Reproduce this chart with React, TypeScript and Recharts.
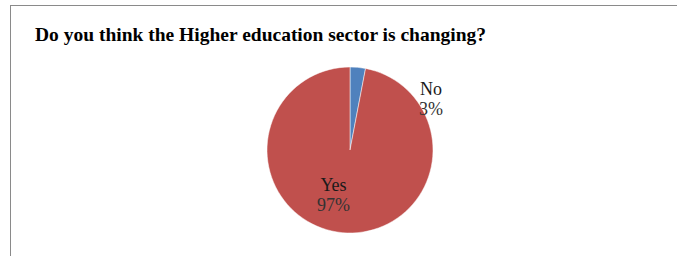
import React from 'react';
import { PieChart, Pie, Cell } from 'recharts';

const categories = ['No', 'Yes'];
const shares = [3, 97];
const sliceColors = ['#4F81BD', '#C0504D'];

// label placement: angle (deg, counter-clockwise from 3 o'clock) and radius factor
const labelAngles = [32, -110];
const labelRadii = [1.15, 0.58];

const data = categories.map((name, i) => ({ name, value: shares[i] }));

const RADIAN = Math.PI / 180;

const renderLabel = (props: any) => {
  const { cx, cy, outerRadius, index } = props;
  const r = outerRadius * labelRadii[index];
  const x = cx + r * Math.cos(labelAngles[index] * RADIAN);
  const y = cy - r * Math.sin(labelAngles[index] * RADIAN);
  return (
    <text
      x={x}
      y={y}
      textAnchor="middle"
      fontFamily="'Liberation Serif', 'Times New Roman', serif"
      fontSize={18}
      fill="#1a1a1a"
    >
      <tspan x={x} dy={-4}>{categories[index]}</tspan>
      <tspan x={x} dy={20} fill="#333">{shares[index]}%</tspan>
    </text>
  );
};

export default function App() {
  return (
    <div
      style={{
        position: 'absolute',
        left: 0,
        top: 0,
        width: 677,
        height: 256,
        background: '#fff',
        overflow: 'hidden',
      }}
    >
      {/* Frame: only top and left edges show in the crop */}
      <div
        style={{
          position: 'absolute',
          left: 10,
          top: 5,
          width: 700,
          height: 300,
          borderTop: '1.5px solid #8a8a8a',
          borderLeft: '1.5px solid #8a8a8a',
        }}
      />
      <div
        style={{
          position: 'absolute',
          left: 35,
          top: 24,
          fontFamily: "'Liberation Serif', 'Times New Roman', serif",
          fontWeight: 'bold',
          fontSize: 19.5,
          color: '#000',
          whiteSpace: 'nowrap',
        }}
      >
        Do you think the Higher education sector is changing?
      </div>
      <div style={{ position: 'absolute', left: 0, top: 0 }}>
        <PieChart width={677} height={256} margin={{ top: 0, right: 0, bottom: 0, left: 0 }}>
          <Pie
            data={data}
            dataKey="value"
            nameKey="name"
            cx={350}
            cy={150}
            outerRadius={83}
            startAngle={90}
            endAngle={-270}
            stroke="#fff"
            strokeWidth={0.5}
            label={renderLabel}
            labelLine={false}
            isAnimationActive={false}
          >
            {data.map((d, i) => (
              <Cell key={d.name} fill={sliceColors[i]} />
            ))}
          </Pie>
        </PieChart>
      </div>
    </div>
  );
}
